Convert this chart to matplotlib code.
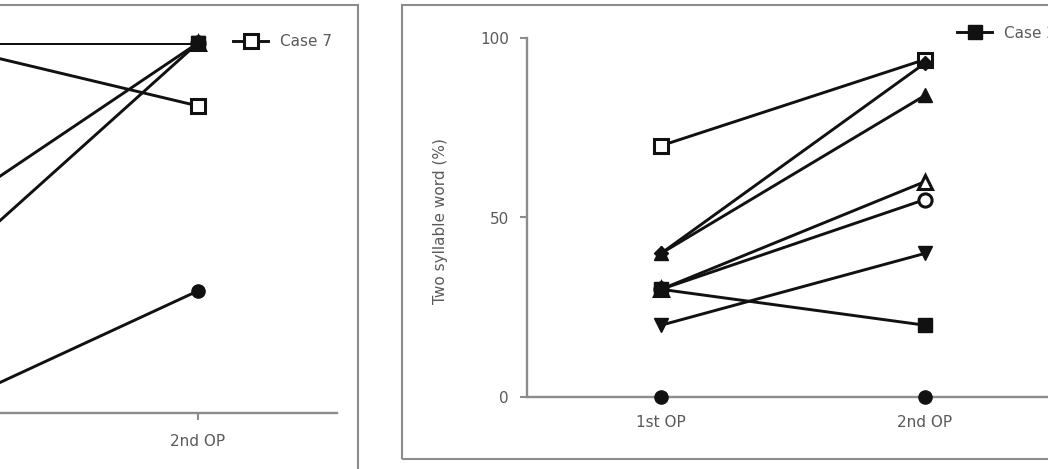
import matplotlib
matplotlib.use("Agg")
import matplotlib.pyplot as plt
from matplotlib.patches import Rectangle
from matplotlib.lines import Line2D

plt.rcParams['font.family'] = ['DejaVu Sans']

# ---- data ----
cases = ["Case 1", "Case 2", "Case 3", "Case 4", "Case 5", "Case 6", "Case 7", "Case 8"]
timepoints = ["1st OP", "2nd OP"]

# left panel (one syllable word, %)
one_first = [0, 100, 52, 36, 100, 100, 100, 100]
one_second = [33, 100, 100, 100, 100, 100, 83, 100]

# right panel (two syllable word, %)
two_first = [0, 30, 40, 20, 40, 30, 70, 30]
two_second = [0, 20, 84, 40, 93, 55, 94, 60]

markers = ["o", "s", "^", "v", "D", "o", "s", "^"]
filled = [True, True, True, True, True, False, False, False]

W, H = 1048, 469
fig = plt.figure(figsize=(W / 100, H / 100), dpi=100)

AX_GRAY = "#8c8c8c"
TXT = "#5a5a5a"
LINE = "#111111"


def fx(px):
    return px / W


def fy(py):
    return 1 - py / H


def style_axes(ax):
    for s in ["top", "right"]:
        ax.spines[s].set_visible(False)
    for s in ["left", "bottom"]:
        ax.spines[s].set_color(AX_GRAY)
        ax.spines[s].set_linewidth(1.7)
        ax.spines[s].set_zorder(3)
    ax.set_facecolor("none")
    ax.tick_params(axis="both", colors=AX_GRAY, width=1.5, length=5,
                   labelcolor=TXT, labelsize=11)


def marker_style(i):
    if filled[i]:
        return dict(markerfacecolor=LINE, markeredgecolor=LINE,
                    markersize=9.5 if markers[i] != "D" else 7.5, markeredgewidth=1.0)
    return dict(markerfacecolor="white", markeredgecolor=LINE, markersize=9.5, markeredgewidth=2.2)


def draw_series(ax, first, second):
    order = [i for i in range(len(cases)) if not filled[i]] + [i for i in range(len(cases)) if filled[i]]
    for i in range(len(cases)):
        ax.plot([0, 1], [first[i], second[i]], color=LINE, lw=2.1, clip_on=True, zorder=2)
    for z, i in enumerate(order):
        ax.plot([0, 1], [first[i], second[i]], linestyle="none", marker=markers[i],
                clip_on=False, zorder=4 + z, **marker_style(i))


def handle(i):
    return Line2D([], [], color=LINE, lw=2.1, marker=markers[i], **marker_style(i))


# ---- left panel ----
axL = fig.add_axes([fx(-200), fy(413), fx(537), (413 - 43) / H])
draw_series(axL, one_first, one_second)
axL.set_xlim(-0.508, 1.527)
axL.set_ylim(0, 100)
axL.set_xticks([0, 1])
axL.set_xticklabels(["", timepoints[1]])
axL.set_yticks([0, 50, 100])
axL.set_yticklabels([])
style_axes(axL)
axL.tick_params(axis="x", pad=10)

# ---- right panel ----
axR = fig.add_axes([fx(527), fy(397), fx(537), (397 - 38) / H])
draw_series(axR, two_first, two_second)
axR.set_xlim(-0.508, 1.527)
axR.set_ylim(0, 100)
axR.set_xticks([0, 1])
axR.set_xticklabels(timepoints)
axR.set_yticks([0, 50, 100])
style_axes(axR)
axR.tick_params(axis="x", pad=8)
axR.tick_params(axis="y", pad=8)
axR.set_ylabel("Two syllable word (%)", color=TXT, fontsize=11)
axR.yaxis.set_label_coords((448 - 527) / 537, (397 - 221) / 359)

# ---- legends (single visible entries) ----
fig.legend(handles=[handle(6)], labels=["Case 7"], loc="center left",
           bbox_to_anchor=(fx(233), fy(42)), frameon=False, fontsize=11,
           handlelength=2.3, handletextpad=0.75, borderpad=0, borderaxespad=0,
           labelcolor=TXT)
fig.legend(handles=[handle(1)], labels=["Case 2"], loc="center left",
           bbox_to_anchor=(fx(957), fy(33)), frameon=False, fontsize=11,
           handlelength=2.3, handletextpad=0.75, borderpad=0, borderaxespad=0,
           labelcolor=TXT)

# ---- panel frames ----
fig.add_artist(Rectangle((fx(-400), fy(500)), fx(758), fy(5) - fy(500), transform=fig.transFigure,
                         fill=False, edgecolor=AX_GRAY, lw=1.5, clip_on=False))
fig.add_artist(Rectangle((fx(402), fy(459)), fx(760), fy(5) - fy(459), transform=fig.transFigure,
                         fill=False, edgecolor=AX_GRAY, lw=1.5, clip_on=False))

fig.savefig("out.png", dpi=100)
